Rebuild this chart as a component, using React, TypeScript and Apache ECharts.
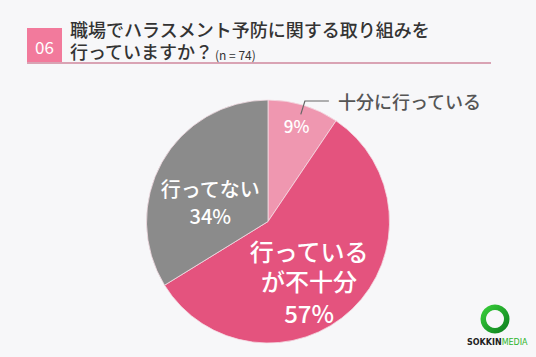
import React, { useEffect, useRef } from "react";
import * as echarts from "echarts";

const categories = ["十分に行っている", "行っているが不十分", "行ってない"];
const counts = [7, 42, 25];
const insideTitles = ["", "行っている\nが不十分", "行ってない"];
const sliceColors = ["#EF97B0", "#E4537E", "#8B8B8B"];
const titleLines = ["職場でハラスメント予防に関する取り組みを", "行っていますか？"];
const sampleNote = "(n = 74)";
const questionNo = "06";

const FONT = '"Noto Sans CJK JP", "Noto Sans", sans-serif';

export default function App() {
  const ref = useRef<HTMLDivElement>(null);
  useEffect(() => {
    document.body.style.margin = "0";
    const chart = echarts.init(ref.current!, null, { renderer: "svg" });
    const data = categories.map((name, i) => ({
      name,
      value: counts[i],
      itemStyle: { color: sliceColors[i] },
    }));
    const offsets = [
      [10, -35],
      [-3, 15],
      [-2, 12],
    ];
    chart.setOption({
      animation: false,
      backgroundColor: "#F7F7F9",
      textStyle: { fontFamily: FONT },
      graphic: [
        { type: "rect", shape: { x: 27, y: 28, width: 35, height: 35 }, style: { fill: "#F27A9C" } },
        {
          type: "text",
          x: 44.5,
          y: 46,
          style: { text: questionNo, fill: "#fff", fontSize: 17, fontFamily: FONT, align: "center", verticalAlign: "middle" },
        },
        { type: "rect", shape: { x: 27, y: 62, width: 464, height: 2 }, style: { fill: "#D9A3B4" } },
        {
          type: "text",
          x: 70,
          y: 29,
          style: { text: titleLines[0], fill: "#333", fontSize: 18, lineHeight: 20, fontWeight: 500, fontFamily: FONT, verticalAlign: "middle" },
        },
        {
          type: "text",
          x: 70,
          y: 51,
          style: { text: titleLines[1], fill: "#333", fontSize: 18, lineHeight: 20, fontWeight: 500, fontFamily: FONT, verticalAlign: "middle" },
        },
        {
          type: "text",
          x: 215,
          y: 54,
          style: { text: sampleNote, fill: "#333", fontSize: 12, fontFamily: FONT, verticalAlign: "middle" },
        },
        {
          type: "ring",
          shape: { cx: 495, cy: 319, r: 14.5, r0: 9 },
          style: {
            fill: new echarts.graphic.LinearGradient(0, 0, 1, 1, [
              { offset: 0, color: "#3BD43B" },
              { offset: 1, color: "#0B7A1E" },
            ]),
          },
        },
        {
          type: "text",
          x: 467,
          y: 342,
          style: {
            text: "{a|SOKKIN}{b|MEDIA}",
            verticalAlign: "middle",
            rich: {
              a: { fontSize: 8, fontWeight: "bold", fill: "#222", fontFamily: "DejaVu Sans" },
              b: { fontSize: 8, fill: "#2DB52D", fontFamily: "DejaVu Sans" },
            },
          },
        },
      ],
      series: [
        {
          type: "pie",
          center: [268, 221.5],
          radius: 121.5,
          startAngle: 90,
          percentPrecision: 0,
          silent: true,
          data,
          itemStyle: { borderColor: "#F4DDE4", borderWidth: 0.8 },
          label: {
            show: true,
            position: "inside",
            color: "#fff",
            fontFamily: FONT,
            formatter: (p: any) => {
              const t = insideTitles[p.dataIndex];
              const pct = `{p${p.dataIndex}|${p.percent}%}`;
              if (!t) return pct;
              const tag = p.dataIndex === 1 ? "t1" : "t2";
              return t
                .split("\n")
                .map((s) => `{${tag}|${s}}`)
                .join("\n") + "\n" + pct;
            },
            rich: {
              t1: { fontSize: 24, lineHeight: 30, color: "#fff", fontWeight: 500, fontFamily: FONT },
              t2: { fontSize: 20, lineHeight: 27, color: "#fff", fontWeight: 500, fontFamily: FONT },
              p0: { fontSize: 17, color: "#fff", fontWeight: 500, fontFamily: FONT },
              p1: { fontSize: 24, lineHeight: 34, color: "#fff", fontWeight: 500, fontFamily: FONT },
              p2: { fontSize: 20, lineHeight: 27, color: "#fff", fontWeight: 500, fontFamily: FONT },
            },
          },
          labelLine: { show: false },
          labelLayout: (p: any) => ({ dx: offsets[p.dataIndex][0], dy: offsets[p.dataIndex][1] }),
        },
        {
          type: "pie",
          center: [268, 221.5],
          radius: 112,
          startAngle: 90,
          silent: true,
          z: 3,
          data: data.map((d, i) => ({
            name: d.name,
            value: d.value,
            itemStyle: { color: "rgba(0,0,0,0)" },
            label: { show: i === 0 },
            labelLine: { show: i === 0 },
          })),
          label: {
            position: "outside",
            formatter: "{b}",
            color: "#555",
            fontSize: 18,
            fontFamily: FONT,
            fontWeight: 500,
            distanceToLabelLine: 9,
          },
          labelLine: {
            length: 14,
            length2: 24,
            lineStyle: { color: "#666", width: 1.2 },
          },
        },
      ],
    });
    return () => chart.dispose();
  }, []);
  return <div ref={ref} style={{ width: 536, height: 357 }} />;
}
